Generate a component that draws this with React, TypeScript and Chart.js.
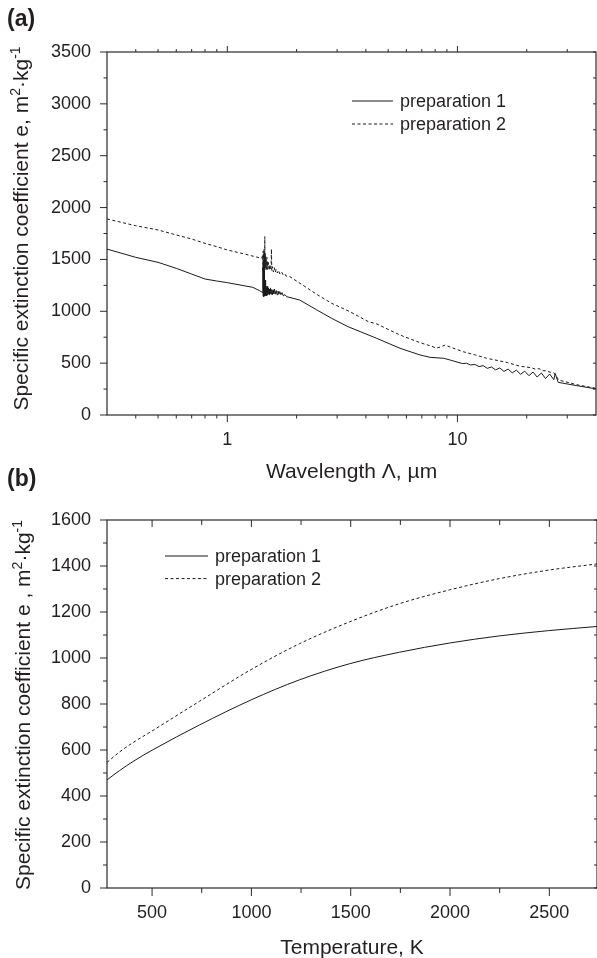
import React, { useEffect, useRef } from 'react';
import { Chart, registerables } from 'chart.js';

Chart.register(...registerables);

const FONT = "'Liberation Sans', Arial, Helvetica, sans-serif";
const INK = '#231f20';
const LINE = '#1a1a1a';

// ---------- Panel (a): extinction vs wavelength ----------
const wavelength1 = [
  0.3, 0.4, 0.5, 0.6, 0.7, 0.8, 0.9, 1.0, 1.29, 1.38,
  1.425, 1.428, 1.43, 1.432, 1.434, 1.436, 1.438, 1.44, 1.442, 1.444,
  1.446, 1.448, 1.45, 1.453, 1.456, 1.459, 1.462, 1.465, 1.468, 1.472,
  1.476, 1.48, 1.485, 1.49, 1.495, 1.5, 1.505, 1.51, 1.518, 1.525,
  1.533, 1.54, 1.55, 1.56, 1.57, 1.58, 1.59, 1.6, 1.615, 1.63,
  1.645, 1.66, 1.675, 1.69, 1.71, 1.73, 1.75, 1.78, 1.81, 2.06,
  2.44, 2.84, 3.35, 4.46, 5.63, 6.88, 7.6, 8.7, 9.3, 10.5,
  10.95, 11.41, 11.9, 12.4, 12.93, 13.48, 14.05, 14.65, 15.27, 15.92,
  16.6, 17.3, 18.04, 18.8, 19.6, 20.44, 21.3, 22.2, 23.15, 24.14,
  25.16, 26.23, 26.6, 27.4, 33, 40,
];
const extinction1 = [
  1600, 1520, 1472, 1414, 1359, 1311, 1292, 1276, 1231, 1199,
  1180, 1430, 1150, 1460, 1145, 1450, 1140, 1420, 1150, 1440,
  1145, 1380, 1150, 1350, 1150, 1300, 1155, 1260, 1150, 1250,
  1160, 1240, 1150, 1230, 1160, 1240, 1170, 1225, 1160, 1215,
  1170, 1225, 1165, 1210, 1160, 1205, 1170, 1215, 1165, 1200,
  1160, 1195, 1165, 1190, 1160, 1180, 1150, 1160, 1141, 1109,
  1015, 932, 851, 739, 643, 579, 556, 547, 530, 496,
  499, 482, 488, 467, 476, 450, 463, 435, 454, 420,
  443, 406, 433, 392, 423, 379, 414, 366, 405, 352,
  395, 341, 400, 315, 283, 252,
];

const wavelength2 = [
  0.3, 0.4, 0.5, 0.6, 0.7, 0.8, 0.9, 1.0, 1.2, 1.3,
  1.41, 1.425, 1.428, 1.431, 1.434, 1.437, 1.44, 1.443, 1.446, 1.449,
  1.452, 1.455, 1.458, 1.461, 1.464, 1.468, 1.472, 1.476, 1.48, 1.485,
  1.49, 1.495, 1.5, 1.51, 1.52, 1.53, 1.54, 1.55, 1.555, 1.56,
  1.57, 1.585, 1.6, 1.615, 1.63, 1.65, 1.67, 1.69, 1.72, 1.75,
  1.78, 1.8, 1.87, 2.44, 2.84, 3.41, 4.1, 4.46, 5.63, 6.88,
  7.6, 8.1, 8.5, 8.85, 9.3, 10.6, 12, 13.4, 15, 16.5,
  18.7, 20, 21, 21.8, 22.6, 23.5, 24.4, 25.3, 26.2, 27.6,
  33, 40,
];
const extinction2 = [
  1890, 1825, 1784, 1736, 1697, 1655, 1623, 1591, 1550, 1530,
  1511, 1540, 1380, 1580, 1400, 1560, 1390, 1600, 1420, 1560,
  1400, 1720, 1430, 1560, 1410, 1530, 1400, 1500, 1410, 1520,
  1400, 1480, 1410, 1470, 1395, 1450, 1400, 1440, 1600, 1390,
  1430, 1380, 1420, 1375, 1405, 1370, 1395, 1360, 1380, 1350,
  1360, 1340, 1334, 1165, 1077, 996, 900, 878, 771, 697,
  668, 645, 658, 675, 655, 610, 578, 547, 525, 505,
  470, 462, 455, 442, 447, 428, 425, 412, 408, 337,
  292, 257,
];

const aXMajor = [1, 10];
const aXMinor = [0.4, 0.5, 0.6, 0.7, 0.8, 0.9, 2, 3, 4, 5, 6, 7, 8, 9, 20, 30];
const aYMajor = [0, 500, 1000, 1500, 2000, 2500, 3000, 3500];
const aYMinor = [250, 750, 1250, 1750, 2250, 2750, 3250];

// ---------- Panel (b): extinction vs temperature ----------
const temperature = [273, 337, 404, 504, 739, 999, 1242, 1494, 1745, 1997, 2248, 2496, 2740];
const prep1T = [470, 511, 550, 601, 709, 818, 905, 975, 1025, 1065, 1096, 1119, 1137];
const prep2T = [546, 592, 632, 685, 812, 950, 1062, 1157, 1236, 1296, 1345, 1382, 1409];

const bXMajor = [500, 1000, 1500, 2000, 2500];
const bXMinor = [750, 1250, 1750, 2250];
const bYMajor = [0, 200, 400, 600, 800, 1000, 1200, 1400, 1600];
const bYMinor = [100, 300, 500, 700, 900, 1100, 1300, 1500];

const seriesLabels = ['preparation 1', 'preparation 2'];

const decor = {
  id: 'decor',
  afterDraw(chart: any, _args: any, o: any) {
    const { ctx, chartArea: ca, scales } = chart;
    const xs = scales.x;
    const ys = scales.y;
    ctx.save();
    ctx.strokeStyle = '#2a2a2a';
    ctx.lineWidth = 1.2;
    ctx.strokeRect(ca.left, ca.top, ca.right - ca.left, ca.bottom - ca.top);
    ctx.lineWidth = 1;
    const seg = (x1: number, y1: number, x2: number, y2: number) => {
      ctx.beginPath();
      ctx.moveTo(x1, y1);
      ctx.lineTo(x2, y2);
      ctx.stroke();
    };
    const t = o.tickLen;
    const xTicks = (vals: number[], kind: number) => {
      vals.forEach((v) => {
        const px = xs.getPixelForValue(v);
        seg(px, ca.bottom, px, ca.bottom + t.bottom[kind]);
        seg(px, ca.top, px, ca.top - t.top[kind]);
      });
    };
    const yTicks = (vals: number[], kind: number) => {
      vals.forEach((v) => {
        const py = ys.getPixelForValue(v);
        seg(ca.left, py, ca.left - t.left[kind], py);
        seg(ca.right, py, ca.right + t.right[kind], py);
      });
    };
    xTicks(o.xMajor, 0);
    xTicks(o.xMinor, 1);
    yTicks(o.yMajor, 0);
    yTicks(o.yMinor, 1);

    // legend
    const lg = o.legend;
    chart.data.datasets.forEach((ds: any, i: number) => {
      const yy = ca.top + lg.dy + i * lg.rowGap;
      const x0 = ca.left + lg.dx;
      ctx.strokeStyle = ds.borderColor;
      ctx.lineWidth = 1;
      ctx.setLineDash(ds.borderDash || []);
      seg(x0, yy, x0 + lg.sample, yy);
      ctx.setLineDash([]);
      ctx.fillStyle = INK;
      ctx.font = `18px ${FONT}`;
      ctx.textAlign = 'left';
      ctx.textBaseline = 'middle';
      ctx.fillText(ds.label, x0 + lg.sample + lg.textGap, yy + 1);
    });

    // panel label
    ctx.font = `bold 23px ${FONT}`;
    ctx.fillStyle = INK;
    ctx.textAlign = 'left';
    ctx.textBaseline = 'middle';
    ctx.fillText(o.panel.text, o.panel.x, o.panel.y);

    // y title with superscripts
    const yt = o.yTitle;
    const base = `${yt.size}px ${FONT}`;
    const small = `${Math.round(yt.size * 0.68)}px ${FONT}`;
    let total = 0;
    const widths = yt.parts.map((p: any) => {
      ctx.font = p.sup ? small : base;
      const w = ctx.measureText(p.text).width;
      total += w;
      return w;
    });
    ctx.translate(yt.x, (ca.top + ca.bottom) / 2 + yt.shift);
    ctx.rotate(-Math.PI / 2);
    ctx.textBaseline = 'alphabetic';
    let cx = -total / 2;
    yt.parts.forEach((p: any, i: number) => {
      ctx.font = p.sup ? small : base;
      ctx.fillText(p.text, cx, p.sup ? -yt.size * 0.4 : 0);
      cx += widths[i];
    });
    ctx.restore();
  },
};

const zeroPad = (s: any) => {
  s.paddingLeft = 0;
  s.paddingRight = 0;
  s.paddingTop = 0;
  s.paddingBottom = 0;
};

function lineDataset(label: string, xs: number[], ys: number[], dashed: boolean, smooth: boolean) {
  return {
    label,
    data: xs.map((x, i) => ({ x, y: ys[i] })),
    borderColor: LINE,
    borderWidth: 1,
    borderDash: dashed ? [3, 2.5] : [],
    pointRadius: 0,
    fill: false,
    tension: 0,
    cubicInterpolationMode: smooth ? 'monotone' : 'default',
  };
}

function makeConfig(panel: 'a' | 'b'): any {
  const isA = panel === 'a';
  const tickFont = { family: FONT, size: 18 };
  return {
    type: 'line',
    data: {
      datasets: isA
        ? [
            lineDataset(seriesLabels[0], wavelength1, extinction1, false, false),
            lineDataset(seriesLabels[1], wavelength2, extinction2, true, false),
          ]
        : [
            lineDataset(seriesLabels[0], temperature, prep1T, false, true),
            lineDataset(seriesLabels[1], temperature, prep2T, true, true),
          ],
    },
    plugins: [decor],
    options: {
      animation: false,
      responsive: false,
      maintainAspectRatio: false,
      events: [],
      layout: { padding: isA ? { left: 0, right: 1, top: 52, bottom: 0 } : { left: 0, right: 0, top: 55, bottom: 0 } },
      plugins: {
        legend: { display: false },
        tooltip: { enabled: false },
        decor: isA
          ? {
              xMajor: aXMajor,
              xMinor: aXMinor,
              yMajor: aYMajor,
              yMinor: aYMinor,
              tickLen: { bottom: [7, 3.5], top: [6, 3], left: [7, 3.5], right: [-3, -3] },
              legend: { dx: 245, dy: 49, rowGap: 23, sample: 41, textGap: 7 },
              panel: { text: '(a)', x: 7, y: 20 },
              yTitle: {
                x: 28,
                size: 21,
                shift: -5,
                parts: [
                  { text: 'Specific extinction coefficient e, m' },
                  { text: '2', sup: true },
                  { text: '·kg' },
                  { text: '-1', sup: true },
                ],
              },
            }
          : {
              xMajor: bXMajor,
              xMinor: bXMinor,
              yMajor: bYMajor,
              yMinor: bYMinor,
              tickLen: { bottom: [8, 5], top: [-7, -5], left: [7, 4], right: [-3, -3] },
              legend: { dx: 58, dy: 36, rowGap: 22.6, sample: 43, textGap: 7 },
              panel: { text: '(b)', x: 7, y: 15 },
              yTitle: {
                x: 30,
                size: 21,
                shift: 1,
                parts: [
                  { text: 'Specific extinction coefficient e , m' },
                  { text: '2', sup: true },
                  { text: '·kg' },
                  { text: '-1', sup: true },
                ],
              },
            },
      },
      scales: {
        x: {
          type: isA ? 'logarithmic' : 'linear',
          min: isA ? 0.3 : 273,
          max: isA ? 40 : 2740,
          afterBuildTicks: (s: any) => {
            s.ticks = (isA ? aXMajor : bXMajor).map((v) => ({ value: v }));
          },
          afterFit: (s: any) => {
            s.height = isA ? 75 : 70;
            zeroPad(s);
          },
          grid: { display: false, drawTicks: false },
          border: { display: false },
          ticks: {
            font: tickFont,
            color: INK,
            padding: 14,
            maxRotation: 0,
            autoSkip: false,
            callback: (v: any) => String(v),
          },
          title: {
            display: true,
            text: isA ? 'Wavelength Λ, µm' : 'Temperature, K',
            font: { family: FONT, size: 21 },
            color: INK,
            padding: { top: 0, bottom: isA ? 5 : -3 },
          },
        },
        y: {
          type: 'linear',
          min: 0,
          max: isA ? 3500 : 1600,
          afterBuildTicks: (s: any) => {
            s.ticks = (isA ? aYMajor : bYMajor).map((v) => ({ value: v }));
          },
          afterFit: (s: any) => {
            s.width = 107;
            zeroPad(s);
          },
          grid: { display: false, drawTicks: false },
          border: { display: false },
          ticks: {
            font: tickFont,
            color: INK,
            padding: 16,
            autoSkip: false,
            callback: (v: any) => String(v),
          },
        },
      },
    },
  };
}

export default function App() {
  const refA = useRef<HTMLCanvasElement | null>(null);
  const refB = useRef<HTMLCanvasElement | null>(null);

  useEffect(() => {
    const a = new Chart(refA.current as HTMLCanvasElement, makeConfig('a'));
    const b = new Chart(refB.current as HTMLCanvasElement, makeConfig('b'));
    return () => {
      a.destroy();
      b.destroy();
    };
  }, []);

  return (
    <div style={{ position: 'absolute', left: 0, top: 0, width: 597, height: 958, background: '#fff', overflow: 'hidden' }}>
      <canvas ref={refA} width={597} height={490} style={{ position: 'absolute', left: 0, top: 0, width: 597, height: 490 }} />
      <canvas ref={refB} width={597} height={493} style={{ position: 'absolute', left: 0, top: 465, width: 597, height: 493 }} />
    </div>
  );
}
